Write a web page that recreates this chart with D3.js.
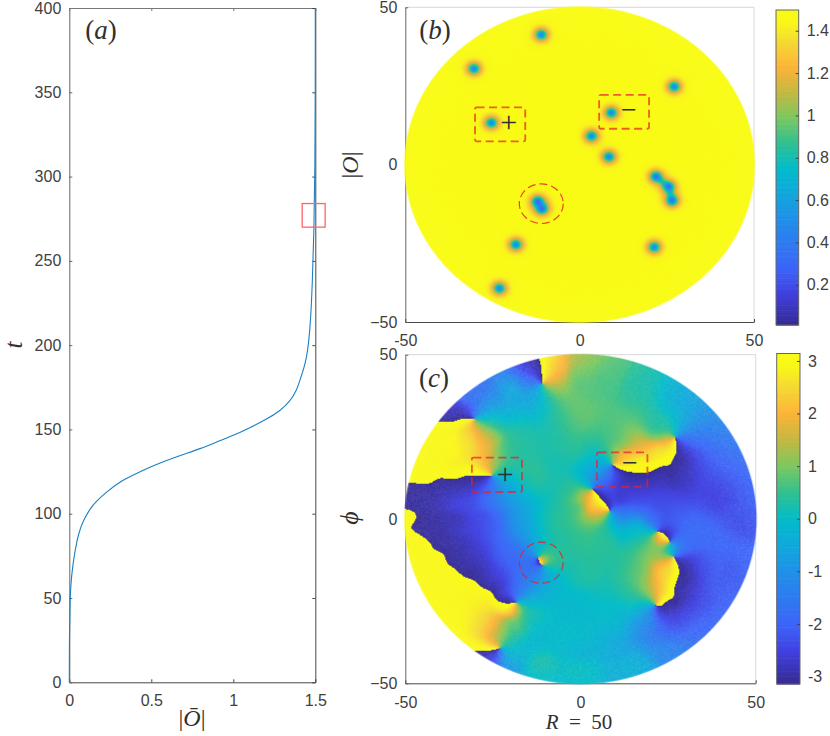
<!DOCTYPE html>
<html>
<head>
<meta charset="utf-8">
<script src="https://d3js.org/d3.v7.min.js"></script>
<style>
  html, body { margin: 0; padding: 0; background: #fff; }
  svg { display: block; font-family: "Liberation Sans", Arial, sans-serif; }
  .tick text { font-size: 16px; fill: #404040; }
  .math { font-family: "Liberation Serif", serif; fill: #303030; }
  image { filter: blur(0.45px); }
</style>
</head>
<body>
<div id="chart"></div>
<script>
const width = 830;
const height = 736;

// panel (a), curve
const orderValues = [0, 0, 0.004, 0.01, 0.02, 0.035, 0.055, 0.085, 0.126, 0.167, 0.228, 0.309, 0.39, 0.492, 0.593,
  0.695, 0.797, 0.898, 1.0, 1.1, 1.203, 1.285, 1.346, 1.386, 1.412, 1.43, 1.447, 1.458, 1.472, 1.482, 1.492, 1.498, 1.5, 1.5];
const timeValues = [0, 21, 47, 59, 68.5, 78, 88, 96, 103, 107.6, 113, 119, 123, 127.7, 131.6,
  135.2, 138.5, 142.5, 146.4, 151, 156, 161, 166.7, 173, 181, 186, 193, 200, 215, 237, 267, 306, 350, 400];
const orderTicks = [0, 0.5, 1, 1.5];
const timeTicks = [0, 50, 100, 150, 200, 250, 300, 350, 400];

// defects (b) and (c)
const defectX = [-11, -30.3, 27.1, -25.3, 9.1, 3.4, 8.4, 21.9, 25.5, 26.5, -12, -10.8, -18.3, 21.4, -23];
const defectY = [41.3, 30.5, 24.8, 13.3, 16.5, 9.1, 2.5, -3.8, -7, -11.4, -11.7, -14, -25.4, -26.2, -39.3];
const defectCharge = [1, -1, 1, 1, -1, 1, -1, 1, -1, 1, -1, 1, -1, -1, 1];
// defects joined by a low |O| string in panel (b)
const stringFrom = [7, 8, 10];
const stringTo = [8, 9, 11];

// phase values (c)
const phaseX = [0, 0, -6.8, 7.5, 17, 26.5, 36, 45.6, 49.4, 40.8, 31.3, 28.4, 45.6, 36, 31.3, 29.4, 36, 26.5, 17, 0, -11.6,
  -21.1, -25.9, 0, 0, 0, 0, 0, -4, -4, -4, -10.6, -21.1, -25.9, -33.5, -14.4, -37.3, -24, -21.1, -21.1, -25.9, -30.6, -35.4,
  -44.9, -14.4, -21.1, -25.9, -35.4, -44.9, -25.9, -35.4, -16.3, -9.7, -21.1, -30.6, -14.4, -8.7, -8.7, -25.9, -44.9, -35.4,
  -40.1, -25.9, -21.1, -16.3, -11.6, -25.9, 7.5, 12.2, 16, 11.3, 17, 12.2, 21.8, 21.8, 19.9, 18, 22.7, 26.5, 12.2, 12.2, 7.5,
  19.9, 24.6, 26.5, 28.4, 24.6, 21.8, 17, 12.2, 7.5, 2.7, 3.7, 6.5, 12.2, 19.9, 17, 21.8, 26.5, 0.8, 2.7, -2,
  12.2, 17, 26.5];
const phaseY = [44.3, 48.4, 46.3, 44.3, 40.3, 36.2, 28.1, 13.9, 0.7, 8.8, 13.9, 21, -16.5, -16.5, -16.5, -26.7, -31.7, -41.9, -47, -49, -47,
  -42.9, -41.9, -36.8, -26.7, -16.5, -6.4, 3.8, 8.8, 19, 29.1, 34.2, 41.3, 37.2, 37.2, 46.3, 31.1, 32.2, 29.1, 21, 24, 24, 24,
  19, 11.9, 8.8, 8.8, 5.8, 5.8, -1.3, -1.3, -1.3, -1.3, -11.5, -11.5, -16.5, -20.6, -11.5, -18.6, -8.4, -21.6,
  -16.5, -31.7, -31.7, -31.7, -26.7, -36.8, -6.4, -6.4, -2.3, 0.7, 5.8, 5.8, 3.8, -0.3, -8.4, -16.5, -15.5, -18.6, -16.5, -26.7, -31.7,
  -29.7, -29.7, -7.4, -8.4, -9.4, 21, 22, 23, 19, 13.9, 10.9, 12.9, 11.9, 15.9, 10.9, 26.1, 29.1, 6.8, 3.8, 6.8,
  19, 18, 21];
const phaseValues = [0.9, 1.2, 2.2, 0.7, 0.3, -0.3, -1.3, -2, -2.2, -2.4, -2.7, -2.9, -2.1, -2.3, -2.9, -2.6, -2, -1.3, -0.4, 0, 0.1,
  -0.6, -2.5, -0.1, -0.1, 0.3, 0.5, 0.7, 0.4, 0.3, 0.55, 0, -0.8, -1.2, -1.8, -2.7, -2.8, -0.3, 0.1, 0.6, 1.6, 2.4, 2.9,
  3, 0.3, -0.7, -1.8, -2.6, -3, -2.2, -2.8, -0.7, 0.2, -2, -2.8, -1.6, -0.3, 0.7, -2.6, 3, 3,
  3, 2.2, 1, 0.5, 0, 1.8, 0.4, 0.1, -0.2, -1.2, -2.4, -2.6, -2.3, -2, 0.9, 1, 2.3, 3, 0.5, 0, -0.1,
  -1, -2.5, -0.9, -1.5, 0.3, 2.6, 1.8, 1, 0.2, -0.6, -1.2, -1.4, -2.9, 3, -2.8, 0.6, 0, 1.6, 2.4, 0.7,
  2.3, 2.9, 2.9];

// readings taken on both sides of the yellow/indigo jumps
const cutX = [-9.8, -12.2, -9.8, -12.2,
  -35, -39, -35, -39.5, -42, -40.5, -38, -37, -33,
  -30, -38, -45, -30, -38, -45,
  -49, -45, -43.5, -40, -36, -34, -30, -27, -24.5, -22, -49.5, -46.3, -41, -36.8, -31, -27.3, -20,
  -27, -25.5,
  24.5, 22, 20, 14.5, 11.5, 30, 27.5, 20, 14, 10.5, 25.5, 30,
  4.3, 6, 5.5, 8,
  25, 23.2,
  26.5, 26.5, 24, 30.5, 31, 27.5, 22];
const cutY = [47, 47, 43.5, 43.5,
  32.5, 31.5, 28, 26.5, 25.5, 28, 28.5, 33, 33,
  15, 14, 13, 11, 10, 8.5,
  5, -2.5, -4, -7.5, -11.5, -14, -16, -18, -20, -23.5, 1, -6.8, -12, -17, -21, -23, -27.5,
  -38, -42,
  19.5, 17, 15.5, 16, 16.5, 19, 13.5, 11.5, 11.8, 13.5, 18, 17,
  6.2, 3.9, 8, 5.5,
  -3.7, -6,
  -15, -19, -24, -13, -19.5, -27, -28.5];
const cutPhi = [2.8, -2.9, 2.6, -2.6,
  -2.9, -2.9, 2.9, 3, 3, 2.9, 2.9, -2.8, -2.7,
  2.9, 3, 3, -2.9, -2.95, -3,
  -3, -3, -3, -3, -3, -3, -3, -3, -2.9, -2.7, 3, 3, 3, 3, 2.9, 2.9, 2.6,
  2.8, -2.8,
  2.9, 3, 3, 2.9, 2.5, -2.9, -2.9, -2.9, -2.9, -2.4, 3, -2.9,
  2.9, 2.8, -2.9, -2.9,
  -2.8, 2.6,
  2.8, 3, 2.9, -2.8, -2.9, -2.9, -2.6];

const fieldTicks = [-50, 0, 50];
const ampTicks = [0.2, 0.4, 0.6, 0.8, 1, 1.2, 1.4];
const phiTicks = [-3, -2, -1, 0, 1, 2, 3];

// colorbar colours
const cmapStops = [0, 0.1, 0.18, 0.34, 0.42, 0.5, 0.58, 0.66, 0.74, 0.82, 0.9, 0.96, 1];
const cmapColors = ['#352a90', '#4040e0', '#3c64f8', '#2090e8', '#10a8dc', '#02bcc8', '#30c090', '#7cc860', '#c4b840', '#fdb338', '#f5d932', '#f9f618', '#f9fb15'];
const cmap = d3.scaleLinear().domain(cmapStops).range(cmapColors).clamp(true);
const lut = d3.range(512).map((i) => d3.rgb(cmap(i / 511)));

const svg = d3.select('#chart').append('svg')
    .attr('width', width)
    .attr('height', height);

const ampRange = [0.01, 1.498];
const phiRange = [-Math.PI, Math.PI];

// scales
const xa = d3.scaleLinear().domain([0, 1.5]).range([69.3, 315.3]);
const ya = d3.scaleLinear().domain([0, 400]).range([682.3, 8]);
const xb = d3.scaleLinear().domain([-50, 50]).range([405.3, 754]);
const yb = d3.scaleLinear().domain([-50, 50]).range([322, 7.3]);
const xc = d3.scaleLinear().domain([-50, 50]).range([405.3, 755.7]);
const yc = d3.scaleLinear().domain([-50, 50]).range([683.3, 354.7]);
const barAmp = d3.scaleLinear().domain(ampRange).range([325, 10]);
const barPhi = d3.scaleLinear().domain(phiRange).range([684, 353.5]);

function frame(x, y) {
  const g = svg.append('g');
  g.append('line').attr('x1', x.range()[0]).attr('x2', x.range()[1]).attr('y1', y.range()[1]).attr('y2', y.range()[1]).attr('stroke', '#d8d8d8').attr('stroke-width', 1);
  g.append('line').attr('x1', x.range()[1]).attr('x2', x.range()[1]).attr('y1', y.range()[0]).attr('y2', y.range()[1]).attr('stroke', '#d8d8d8').attr('stroke-width', 1);
}

function axes(x, y, xTicks, yTicks, xFmt, pad) {
  const gx = svg.append('g').attr('transform', `translate(0,${y.range()[0]})`)
      .call(d3.axisBottom(x).tickValues(xTicks).tickFormat(xFmt).tickSizeInner(-3).tickSizeOuter(0).tickPadding(pad));
  const gy = svg.append('g').attr('transform', `translate(${x.range()[0]},0)`)
      .call(d3.axisLeft(y).tickValues(yTicks).tickFormat(d3.format('d')).tickSizeInner(-3).tickSizeOuter(0).tickPadding(8));
  gx.selectAll('.domain, line').attr('stroke', '#333').attr('stroke-width', 0.9);
  gy.selectAll('.domain, line').attr('stroke', '#555').attr('stroke-width', 0.9);
}

function bar(scale, x0, x1, ticks, fmt) {
  const cells = d3.range(128);
  const [lo, hi] = scale.domain();
  const step = (hi - lo) / cells.length;
  svg.append('g').selectAll('rect').data(cells).enter().append('rect')
      .attr('x', x0)
      .attr('width', x1 - x0)
      .attr('y', (d) => scale(lo + (d + 1) * step))
      .attr('height', (d) => scale(lo) - scale(lo + step) + 0.6)
      .attr('fill', (d) => cmap((d + 0.5) / cells.length));
  svg.append('rect').attr('x', x0).attr('y', scale(hi)).attr('width', x1 - x0).attr('height', scale(lo) - scale(hi))
      .attr('fill', 'none').attr('stroke', '#666').attr('stroke-width', 1);
  const g = svg.append('g').attr('transform', `translate(${x1},0)`)
      .call(d3.axisRight(scale).tickValues(ticks).tickFormat(fmt).tickSizeInner(-3).tickSizeOuter(0).tickPadding(8));
  g.select('.domain').remove();
  g.selectAll('line').attr('stroke', '#444');
}

// paint a field over the disc, every pixel goes through the panel's scales
function field(x, y, fn, mesh) {
  const [px0, px1] = x.range();
  const [py1, py0] = y.range();
  const w = Math.ceil(px1 - px0) + 4;
  const h = Math.ceil(py1 - py0) + 4;
  const canvas = document.createElement('canvas');
  canvas.width = w;
  canvas.height = h;
  const ctx = canvas.getContext('2d');
  const img = ctx.createImageData(w, h);
  const left = px0 - 2;
  const top = py0 - 2;
  for (let j = 0; j < h; j++) {
    for (let i = 0; i < w; i++) {
      const dx = x.invert(left + i + 0.5);
      const dy = y.invert(top + j + 0.5);
      const r = Math.hypot(dx, dy);
      const edge = Math.max(0, Math.min(1, (50.4 - r) / 0.3));
      if (edge === 0) continue;
      const c = lut[Math.round(fn(dx, dy) * 511)];
      // faint mesh showing through towards the rim, fixed per pixel
      const h1 = Math.sin(i * 12.9898 + j * 78.233) * 43758.5453;
      const s = mesh * (r / 50) ** 2 * (h1 - Math.floor(h1));
      const k = (i + j * w) * 4;
      img.data[k] = c.r + (255 - c.r) * s;
      img.data[k + 1] = c.g + (255 - c.g) * s;
      img.data[k + 2] = c.b + (255 - c.b) * s;
      img.data[k + 3] = 255 * edge;
    }
  }
  ctx.putImageData(img, 0, 0);
  svg.append('image')
      .attr('x', left).attr('y', top)
      .attr('width', w).attr('height', h)
      .attr('href', canvas.toDataURL());
}

function segDist(x, y, a, b) {
  const ax = defectX[a];
  const ay = defectY[a];
  const ux = defectX[b] - ax;
  const uy = defectY[b] - ay;
  const u = Math.max(0, Math.min(1, ((x - ax) * ux + (y - ay) * uy) / (ux * ux + uy * uy)));
  return Math.hypot(x - ax - u * ux, y - ay - u * uy);
}

function amplitude(x, y) {
  let v = ampRange[1];
  defectX.forEach((dx, i) => {
    const d2 = (x - dx) ** 2 + (y - defectY[i]) ** 2 + 0.35;
    v *= Math.tanh(Math.sqrt(d2) / 2);
  });
  let dip = 0;
  stringFrom.forEach((a, i) => {
    dip = Math.max(dip, Math.exp(-((segDist(x, y, a, stringTo[i]) / 1.1) ** 2)));
  });
  v *= 1 - 0.25 * dip;
  return Math.max(0, Math.min(1, (v - ampRange[0]) / (ampRange[1] - ampRange[0])));
}

function windingAngle(x, y) {
  let a = 0;
  for (let i = 0; i < defectX.length; i++) {
    a += defectCharge[i] * Math.atan2(y - defectY[i], x - defectX[i]);
  }
  return a;
}

// smooth part left after removing the windings, known only at the sampled spots
const allX = phaseX.concat(cutX);
const allY = phaseY.concat(cutY);
const allPhi = phaseValues.concat(cutPhi);
const residRe = allPhi.map((p, k) => Math.cos(p - windingAngle(allX[k], allY[k])));
const residIm = allPhi.map((p, k) => Math.sin(p - windingAngle(allX[k], allY[k])));

function phase(x, y) {
  let re = 0;
  let im = 0;
  for (let k = 0; k < allX.length; k++) {
    const d2 = (x - allX[k]) ** 2 + (y - allY[k]) ** 2 + 6;
    const w = 1 / (d2 * d2);
    re += w * residRe[k];
    im += w * residIm[k];
  }
  let p = windingAngle(x, y) + Math.atan2(im, re);
  p = p - 2 * Math.PI * Math.floor((p + Math.PI) / (2 * Math.PI));
  return (p + Math.PI) / (2 * Math.PI);
}

// panel a
axes(xa, ya, orderTicks, timeTicks, (d) => String(d), 12);
svg.append('g').attr('transform', `translate(0,${ya.range()[1]})`)
    .call(d3.axisTop(xa).tickValues(orderTicks).tickFormat('').tickSizeInner(-3).tickSizeOuter(0))
    .selectAll('.domain, line').attr('stroke', '#777').attr('stroke-width', 1);
svg.append('g').attr('transform', `translate(${xa.range()[1]},0)`)
    .call(d3.axisRight(ya).tickValues(timeTicks).tickFormat('').tickSizeInner(-3).tickSizeOuter(0))
    .selectAll('.domain, line').attr('stroke', '#333').attr('stroke-width', 0.9);
svg.append('path')
    .datum(orderValues.map((d, i) => [d, timeValues[i]]))
    .attr('fill', 'none')
    .attr('stroke', '#1a80c4')
    .attr('stroke-width', 1.1)
    .attr('d', d3.line().x((d) => xa(d[0])).y((d) => ya(d[1])).curve(d3.curveBasis));
svg.append('rect')
    .attr('x', xa(1.42)).attr('y', ya(284))
    .attr('width', xa(1.56) - xa(1.42)).attr('height', ya(270) - ya(284))
    .attr('fill', 'none').attr('stroke', '#ff6468').attr('stroke-width', 1.3);

// panel b
frame(xb, yb);
axes(xb, yb, fieldTicks, fieldTicks, (d) => String(d), 13);
field(xb, yb, amplitude, 0.04);
bar(barAmp, 776, 798.7, ampTicks, (d) => String(d));

// panel c
frame(xc, yc);
axes(xc, yc, fieldTicks, fieldTicks, (d) => String(d), 13);
field(xc, yc, phase, 0.12);
bar(barPhi, 776.7, 800, phiTicks, (d) => String(d));

// dashed boxes and circles
function dashRect(x, y, xr, yr) {
  svg.append('rect')
      .attr('x', x(xr[0])).attr('y', y(yr[1]))
      .attr('width', x(xr[1]) - x(xr[0])).attr('height', y(yr[0]) - y(yr[1]))
      .attr('rx', 1.5)
      .attr('fill', 'none').attr('stroke', '#e8202a').attr('stroke-opacity', 0.72)
      .attr('stroke-width', 1.8).attr('stroke-dasharray', '8 4.5');
}
function dashCircle(x, y, cx, cy, r) {
  svg.append('ellipse')
      .attr('cx', x(cx)).attr('cy', y(cy))
      .attr('rx', x(r) - x(0)).attr('ry', y(0) - y(r))
      .attr('fill', 'none').attr('stroke', '#e8202a').attr('stroke-opacity', 0.85)
      .attr('stroke-width', 1.2).attr('stroke-dasharray', '8 4');
}
dashRect(xb, yb, [-30, -15.6], [7.4, 18.2]);
dashRect(xb, yb, [5.6, 19.9], [11.4, 22.2]);
dashCircle(xb, yb, -11, -12.4, 6.3);
dashRect(xc, yc, [-31, -16.7], [8.2, 18.7]);
dashRect(xc, yc, [4.7, 19.1], [9.8, 20.3]);
dashCircle(xc, yc, -11.2, -13.3, 6.25);

function mathText(x, y, size, parts, rotate) {
  const t = svg.append('text')
      .attr('class', 'math')
      .attr('text-anchor', 'middle')
      .attr('dominant-baseline', 'middle')
      .attr('font-size', size)
      .attr('transform', `translate(${x},${y})` + (rotate ? ' rotate(-90)' : ''));
  parts.forEach((p) => {
    t.append('tspan').attr('font-style', p[1] ? 'italic' : 'normal').text(p[0]);
  });
}

mathText(101, 33, 27, [['(', 0], ['a', 1], [')', 0]]);
mathText(435, 33, 27, [['(', 0], ['b', 1], [')', 0]]);
mathText(434, 381, 27, [['(', 0], ['c', 1], [')', 0]]);
mathText(508.7, 124.7, 30, [['+', 0]]);
mathText(629, 113.3, 28, [['\u2212', 0]]);
mathText(505.3, 476.7, 30, [['+', 0]]);
mathText(630, 466, 28, [['\u2212', 0]]);
mathText(16, 345, 25, [['t', 1]], true);
mathText(192, 720, 24, [['|', 0], ['\u014c', 1], ['|', 0]]);
mathText(352, 165, 24, [['|', 0], ['O', 1], ['|', 0]], true);
mathText(352, 518, 26, [['\u03d5', 1]], true);
mathText(579, 724, 21, [['R', 1], ['\u2002=\u200250', 0]]);
</script>
</body>
</html>
